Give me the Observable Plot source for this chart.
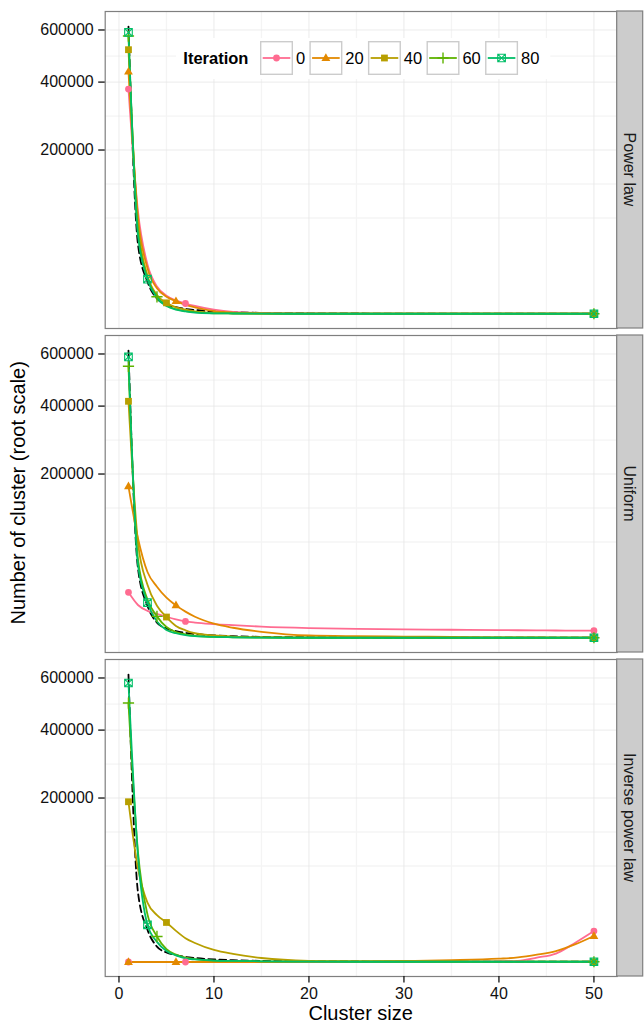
<!DOCTYPE html>
<html><head><meta charset="utf-8">
<script src="https://cdn.jsdelivr.net/npm/d3@7"></script>
<script src="https://cdn.jsdelivr.net/npm/@observablehq/plot@0.6"></script>
<style>
html,body{margin:0;padding:0;background:#fff;}
#chart svg{display:block;}
</style></head><body><div id="chart"></div>
<script>
// ---------- data ----------
const panels = ["Power law", "Uniform", "Inverse power law"];
const iterations = ["0", "20", "40", "60", "80"];
const colors = ["#FF6C91", "#E38900", "#B79F00", "#5EB300", "#00BE67"];
const clusterSize = [1, 2, 3, 4, 5, 6, 7, 8, 10, 12, 15, 20, 25, 30, 35, 40, 42, 44, 46, 48, 50];
// cluster size at which each iteration shows its middle marker (plus 1 and 50)
const markerSizes = {"0": [1, 7, 50], "20": [1, 6, 50], "40": [1, 5, 50], "60": [1, 4, 50], "80": [1, 3, 50]};

const reference = [614656, 36100, 7744, 1764, 676, 361, 196, 121, 49, 25, 9, 4, 2, 1, 1, 0.5, 0.5, 0.5, 0.5, 0.5, 0.5];

const powerLaw0  = [376400, 78400, 18225, 5625, 2500, 1369, 824, 484, 144, 36, 9, 2, 1, 1, 1, 1, 1, 1, 1, 1, 1];
const powerLaw20 = [436700, 70225, 15625, 4900, 2209, 1232, 625, 324, 64, 16, 4, 1, 1, 1, 1, 1, 1, 1, 1, 1, 1];
const powerLaw40 = [519600, 60025, 11025, 2704, 930, 324, 144, 49, 9, 4, 1, 0.5, 0.5, 0.5, 0.5, 0.5, 0.5, 0.5, 0.5, 0.5, 0.5];
const powerLaw60 = [574600, 50625, 9604, 2200, 576, 169, 64, 25, 4, 2, 1, 0.5, 0.5, 0.5, 0.5, 0.5, 0.5, 0.5, 0.5, 0.5, 0.5];
const powerLaw80 = [589800, 46225, 9044, 1936, 484, 144, 49, 16, 4, 2, 1, 0.5, 0.5, 0.5, 0.5, 0.5, 0.5, 0.5, 0.5, 0.5, 0.5];

const uniform0  = [15500, 8100, 5476, 4356, 3364, 2601, 2052, 1764, 1444, 1225, 961, 729, 625, 552, 506, 462, 449, 433, 420, 408, 400];
const uniform20 = [171150, 73984, 32400, 19600, 12100, 7921, 5184, 3364, 1521, 784, 289, 49, 25, 16, 9, 4, 3, 2, 1, 1, 1];
const uniform40 = [416800, 67600, 21025, 7744, 3272, 1089, 441, 169, 49, 16, 6, 2, 1, 0.5, 0.5, 0.5, 0.5, 0.5, 0.5, 0.5, 0.5];
const uniform60 = [549100, 46225, 11025, 3481, 900, 256, 100, 36, 9, 4, 1, 0.5, 0.5, 0.5, 0.5, 0.5, 0.5, 0.5, 0.5, 0.5, 0.5];
const uniform80 = [587700, 40000, 9312, 2025, 484, 169, 64, 25, 9, 4, 1, 0.5, 0.5, 0.5, 0.5, 0.5, 0.5, 0.5, 0.5, 0.5, 0.5];

const inverse0  = [0, 0, 0, 0, 0, 0, 0, 0, 0, 0, 0, 0, 0, 0, 1, 4, 11, 144, 529, 2704, 7140];
const inverse20 = [0, 0, 0, 0, 0, 0, 0, 0, 0, 0, 0, 1, 4, 9, 25, 81, 154, 400, 900, 2304, 5030];
const inverse40 = [191000, 65025, 26244, 16384, 11640, 7225, 4225, 2704, 1089, 484, 121, 11, 4, 1, 0.5, 0.5, 0.5, 0.5, 0.5, 0.5, 0.5];
const inverse60 = [498900, 90000, 16900, 4858, 1225, 400, 144, 64, 16, 9, 4, 1, 0.5, 0.5, 0.5, 0.5, 0.5, 0.5, 0.5, 0.5, 0.5];
const inverse80 = [579000, 84100, 10302, 3025, 900, 324, 100, 49, 16, 9, 4, 1, 0.5, 0.5, 0.5, 0.5, 0.5, 0.5, 0.5, 0.5, 0.5];

const xTicks = [0, 10, 20, 30, 40, 50];
const xMinor = [5, 15, 25, 35, 45];
const yTicks = [200000, 400000, 600000];
const yMinor = [68590, 125741, 291492, 494912];
const xDomain = [-1.45, 52.45];
const yDomain = [-1560, 680625];

// ---------- tables ----------
const seriesByPanel = {
  "Power law": [powerLaw0, powerLaw20, powerLaw40, powerLaw60, powerLaw80],
  "Uniform": [uniform0, uniform20, uniform40, uniform60, uniform80],
  "Inverse power law": [inverse0, inverse20, inverse40, inverse60, inverse80]
};
const rows = panels.flatMap(p => iterations.flatMap((it, i) =>
  clusterSize.map((x, j) => ({panel: p, iteration: it, x, value: seriesByPanel[p][i][j]}))));
const refRows = panels.flatMap(p => clusterSize.map((x, j) => ({panel: p, x, value: reference[j]})));
const markerRows = rows.filter(d => markerSizes[d.iteration].includes(d.x));

// ---------- symbols ----------
const R = 3.4;
const symCircle = {draw(c, s) { const r = Math.sqrt(s / Math.PI); c.moveTo(r, 0); c.arc(0, 0, r, 0, 2 * Math.PI); c.closePath(); }};
const symTriangle = {draw(c, s) { const r = Math.sqrt(s / Math.PI); c.moveTo(0, -1.4 * r); c.lineTo(1.3 * r, 0.85 * r); c.lineTo(-1.3 * r, 0.85 * r); c.closePath(); }};
const symSquare = {draw(c, s) { const r = Math.sqrt(s / Math.PI); c.rect(-r, -r, 2 * r, 2 * r); }};
const symPlus = {draw(c, s) { const r = Math.sqrt(s / Math.PI) * 1.65; c.moveTo(-r, 0); c.lineTo(r, 0); c.moveTo(0, -r); c.lineTo(0, r); }};
const symSquareX = {draw(c, s) { const r = Math.sqrt(s / Math.PI) * 1.12; c.rect(-r, -r, 2 * r, 2 * r); c.moveTo(-r, -r); c.lineTo(r, r); c.moveTo(r, -r); c.lineTo(-r, r); }};
const symbolStyles = [
  {symbol: symCircle, filled: true},
  {symbol: symTriangle, filled: true},
  {symbol: symSquare, filled: true},
  {symbol: symPlus, filled: false, sw: 1.4},
  {symbol: symSquareX, filled: false, sw: 1.1}
];
function dotOpts(i) {
  const st = symbolStyles[i];
  return st.filled
    ? {symbol: st.symbol, r: R, fill: colors[i], stroke: "none"}
    : {symbol: st.symbol, r: R, fill: "none", stroke: colors[i], strokeWidth: st.sw};
}

const FONT = "'Liberation Sans', Arial, Helvetica, sans-serif";
const W = 644, H = 1023;
const mL = 104.7, mR = 27.3, mT = 10, mB = 47.3;

const plot = Plot.plot({
  width: W, height: H,
  marginLeft: mL, marginRight: mR, marginTop: mT, marginBottom: mB,
  style: {fontFamily: FONT, background: "#fff", color: "#000"},
  x: {domain: xDomain, label: null},
  y: {type: "sqrt", domain: yDomain, label: null},
  fy: {domain: panels, paddingInner: 0.0231, paddingOuter: 0, axis: null, label: null},
  marks: [
    Plot.gridX({ticks: xMinor, stroke: "#F4F4F4", strokeOpacity: 1, strokeWidth: 1.3}),
    Plot.gridY({ticks: yMinor, stroke: "#F4F4F4", strokeOpacity: 1, strokeWidth: 1.3}),
    Plot.gridX({ticks: xTicks, stroke: "#E6E6E6", strokeOpacity: 1, strokeWidth: 0.8}),
    Plot.gridY({ticks: yTicks, stroke: "#E6E6E6", strokeOpacity: 1, strokeWidth: 0.8}),
    Plot.line(refRows, {x: "x", y: "value", fy: "panel", stroke: "#000", strokeWidth: 1.8, strokeDasharray: "7,4", curve: "monotone-x"}),
    ...iterations.map((it, i) => Plot.line(rows.filter(d => d.iteration === it),
      {x: "x", y: "value", fy: "panel", stroke: colors[i], strokeWidth: 1.8, curve: "monotone-x"})),
    ...iterations.map((it, i) => Plot.dot(markerRows.filter(d => d.iteration === it),
      {x: "x", y: "value", fy: "panel", ...dotOpts(i)})),
    Plot.frame({stroke: "#7F7F7F", strokeWidth: 1.2}),
    Plot.axisY({ticks: yTicks, tickFormat: d => String(d), tickSize: 6.5, tickPadding: 5, fontSize: 16, label: null, strokeWidth: 1.3, color: "#111"}),
    Plot.axisX({ticks: xTicks, tickSize: 6.5, tickPadding: 5, fontSize: 16, label: null, strokeWidth: 1.3, color: "#111"})
  ]
});
document.getElementById("chart").appendChild(plot);

// ---------- strips, titles, legend ----------
const svg = d3.select(plot);
const fyS = plot.scale("fy");
const xS = plot.scale("x");
const stripX = xS.apply(xDomain[1]);
const stripW = 26;
panels.forEach(p => {
  const y0 = fyS.apply(p), bw = fyS.bandwidth;
  svg.append("rect").attr("x", stripX).attr("y", y0).attr("width", stripW).attr("height", bw)
    .attr("fill", "#CCCCCC").attr("stroke", "#7F7F7F").attr("stroke-width", 1.2);
  svg.append("text").attr("transform", `translate(${stripX + stripW / 2 - 5.7},${y0 + bw / 2}) rotate(90)`)
    .attr("text-anchor", "middle").attr("font-size", 16).attr("fill", "#1A1A1A").attr("font-family", FONT).text(p);
});
const xCenter = (mL + (W - mR)) / 2;
svg.append("text").attr("x", xCenter).attr("y", 1020).attr("text-anchor", "middle")
  .attr("font-size", 20).attr("font-family", FONT).attr("fill", "#000").text("Cluster size");
svg.append("text").attr("transform", `translate(25,${(mT + H - mB) / 2}) rotate(-90)`).attr("text-anchor", "middle")
  .attr("font-size", 20).attr("font-family", FONT).attr("fill", "#000").text("Number of cluster (root scale)");

// legend
const lg = svg.append("g").attr("font-family", FONT).attr("text-anchor", "start");
const lgBg = lg.append("rect").attr("x", 176).attr("y", 38).attr("height", 41).attr("fill", "#fff");
const cy = 58;
lg.append("text").attr("x", 183.3).attr("y", cy).attr("dy", "0.36em").attr("font-size", 16.5)
  .attr("text-anchor", "start").attr("font-weight", "bold").attr("fill", "#000").text("Iteration");
let kx = 260.7;
const boxW = 31.6, boxH = 32.6;
iterations.forEach((it, i) => {
  lg.append("rect").attr("x", kx).attr("y", cy - boxH / 2).attr("width", boxW).attr("height", boxH)
    .attr("fill", "#fff").attr("stroke", "#CCCCCC").attr("stroke-width", 1.4);
  lg.append("line").attr("x1", kx + 2).attr("x2", kx + boxW - 2).attr("y1", cy).attr("y2", cy)
    .attr("stroke", colors[i]).attr("stroke-width", 1.8);
  const st = symbolStyles[i];
  const p = d3.path();
  st.symbol.draw(p, R * R * Math.PI);
  lg.append("path").attr("d", p.toString()).attr("transform", `translate(${kx + boxW / 2},${cy})`)
    .attr("fill", st.filled ? colors[i] : "none").attr("stroke", st.filled ? "none" : colors[i])
    .attr("stroke-width", st.sw || 0);
  const t = lg.append("text").attr("x", kx + boxW + 3.6).attr("y", cy).attr("dy", "0.36em")
    .attr("text-anchor", "start").attr("font-size", 16.5).attr("fill", "#000").text(it);
  kx = kx + boxW + 3.6 + t.node().getComputedTextLength() + 5;
});
lgBg.attr("width", kx - 176 + 6);
</script></body></html>
